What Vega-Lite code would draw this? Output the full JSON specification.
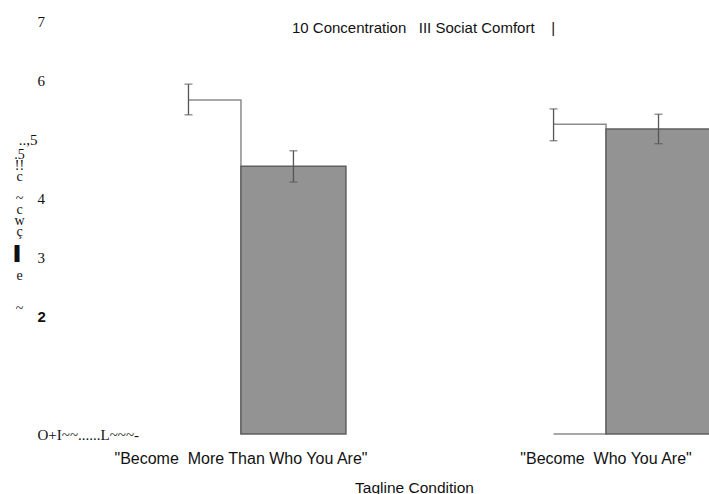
{
  "$schema": "https://vega.github.io/schema/vega-lite/v6.json",
  "autosize": "none",
  "width": 664,
  "height": 413,
  "padding": {"left": 45, "top": 21, "right": 0, "bottom": 60},
  "background": "white",
  "title": {
    "text": "10 Concentration\u00a0\u00a0 III Sociat Comfort\u00a0\u00a0\u00a0 |",
    "anchor": "start",
    "frame": "group",
    "baseline": "alphabetic",
    "offset": 0,
    "dx": 247,
    "dy": 34,
    "font": "Liberation Sans",
    "fontSize": 15,
    "fontWeight": "normal",
    "color": "#111111"
  },
  "data": {
    "values": [
      {"tagline": "\"Become\u00a0 More Than Who You Are\"", "measure": "Concentration", "mean": 5.66, "lo": 5.41, "hi": 5.93},
      {"tagline": "\"Become\u00a0 More Than Who You Are\"", "measure": "Social Comfort", "mean": 4.54, "lo": 4.27, "hi": 4.8},
      {"tagline": "\"Become\u00a0 Who You Are\"", "measure": "Concentration", "mean": 5.25, "lo": 4.97, "hi": 5.51},
      {"tagline": "\"Become\u00a0 Who You Are\"", "measure": "Social Comfort", "mean": 5.17, "lo": 4.92, "hi": 5.42}
    ]
  },
  "encoding": {
    "x": {
      "field": "tagline",
      "type": "nominal",
      "sort": null,
      "scale": {"range": [91, 666], "paddingInner": 0.425, "paddingOuter": 0},
      "axis": {
        "title": "Tagline Condition",
        "labelAngle": 0,
        "domain": false,
        "ticks": false,
        "tickSize": 0,
        "labelPadding": 29,
        "labelBaseline": "alphabetic",
        "labelFont": "Liberation Sans",
        "labelFontSize": 16,
        "labelColor": "#111111",
        "labelLimit": 0,
        "titleFont": "Liberation Sans",
        "titleFontSize": 15.5,
        "titleFontWeight": "normal",
        "titleColor": "#111111",
        "titleBaseline": "alphabetic",
        "titleAlign": "center",
        "titleX": 369,
        "titleY": 58
      }
    },
    "xOffset": {
      "field": "measure",
      "type": "nominal",
      "scale": {"domain": ["Concentration", "Social Comfort"], "paddingInner": 0, "paddingOuter": 0}
    }
  },
  "layer": [
    {
      "transform": [{"filter": "datum.measure == 'Concentration'"}],
      "mark": {"type": "bar", "fill": "white", "stroke": "#8c8c8c", "strokeWidth": 1.5},
      "encoding": {
        "y": {
          "field": "mean",
          "type": "quantitative",
          "scale": {"domain": [0, 7], "nice": false},
          "axis": {
            "values": [0, 2, 3, 4, 5, 6, 7],
            "format": "d",
            "domain": false,
            "ticks": false,
            "tickSize": 0,
            "grid": false,
            "labelPadding": 8,
            "labelOverlap": false,
            "labelFlush": false,
            "labelBaseline": "middle",
            "labelAlign": {"condition": {"test": "datum.value == 5", "value": "right"}, "value": "left"},
            "labelFont": {"condition": {"test": "datum.value == 2", "value": "Liberation Sans"}, "value": "Liberation Serif"},
            "labelFontWeight": {"condition": {"test": "datum.value == 2", "value": "bold"}, "value": "normal"},
            "labelFontSize": 15,
            "labelColor": "#111111",
            "labelExpr": "datum.value == 5 ? '..,5' : datum.value == 0 ? 'O+I~~......L~~~-' : datum.label",
            "title": [".5", "!!", "c", "\u200b", "~", "c", "w", "ç", "\u200b", "▌", "\u200b", "e", "\u200b", "\u200b", "~"],
            "titleAngle": 0,
            "titleAlign": "center",
            "titleBaseline": "middle",
            "titleFont": "Liberation Serif",
            "titleFontSize": 14,
            "titleFontWeight": "normal",
            "titleLineHeight": 11,
            "titleColor": "#111111",
            "titleX": -26,
            "titleY": 133
          }
        },
        "strokeDash": {
          "field": "tagline",
          "type": "nominal",
          "scale": {
            "domain": ["\"Become\u00a0 More Than Who You Are\"", "\"Become\u00a0 Who You Are\""],
            "range": [[0, 52.5, 386.5, 3000], [0, 52.5, 414.75, 3000]]
          },
          "legend": null
        }
      }
    },
    {
      "transform": [{"filter": "datum.measure == 'Social Comfort'"}],
      "mark": {"type": "bar", "fill": "#939393", "stroke": "#5f5f5f", "strokeWidth": 1.5},
      "encoding": {
        "y": {"field": "mean", "type": "quantitative"}
      }
    },
    {
      "mark": {"type": "rule", "color": "#555555", "strokeWidth": 1.3},
      "encoding": {
        "y": {"field": "lo", "type": "quantitative"},
        "y2": {"field": "hi"}
      }
    },
    {
      "mark": {"type": "tick", "color": "#555555", "thickness": 1.3, "size": 8},
      "encoding": {
        "y": {"field": "lo", "type": "quantitative"}
      }
    },
    {
      "mark": {"type": "tick", "color": "#555555", "thickness": 1.3, "size": 8},
      "encoding": {
        "y": {"field": "hi", "type": "quantitative"}
      }
    }
  ],
  "config": {
    "view": {"stroke": null},
    "axis": {"grid": false}
  }
}
